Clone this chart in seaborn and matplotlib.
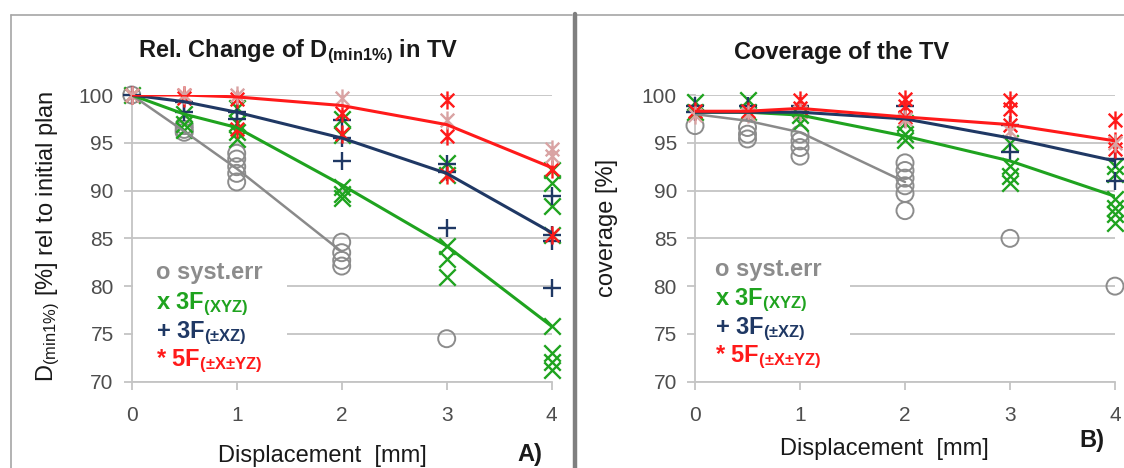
import matplotlib
matplotlib.use("Agg")
import matplotlib.pyplot as plt
import seaborn as sns
from matplotlib.path import Path
from matplotlib.patches import Rectangle
from matplotlib.lines import Line2D
from matplotlib.markers import MarkerStyle

# ---------------- data ----------------
disp = [0, 0.5, 1, 2, 3, 4]
disp_sys = [0, 0.5, 1, 2]

# panel A: rel. change of D(min1%) in TV (mean lines)
a_sys_line = [100, 96.2, 92.3, 83.6]
a_xyz_line = [100, 98.0, 96.6, 90.6, 84.2, 75.8]
a_pmxz_line = [100, 99.3, 98.2, 95.5, 91.8, 85.6]
a_five_line = [100, 100, 99.8, 98.9, 96.9, 92.4]

# panel A: single cases
a_sys_x = [0, 0.5, 0.5, 0.5, 1, 1, 1, 1, 1, 2, 2, 2, 2, 3]
a_sys_y = [100, 96.8, 96.4, 96.1, 93.9, 93.3, 92.5, 91.8, 90.9, 84.6, 83.5, 82.7, 82.1, 74.5]
a_xyz_x = [0, 0.5, 0.5, 0.5, 1, 1, 1, 1, 2, 2, 2, 2, 2, 3, 3, 3, 3, 3, 4, 4, 4, 4, 4, 4, 4, 4]
a_xyz_y = [100, 98.0, 97.0, 96.3, 98.6, 97.1, 96.1, 95.4, 97.5, 95.8, 90.4, 89.6, 89.2,
           92.9, 91.6, 84.2, 82.8, 81.0, 92.2, 90.8, 88.4, 85.3, 75.8, 73.0, 72.1, 71.2]
a_pmxz_x = [0, 0.5, 0.5, 1, 1, 2, 2, 2, 3, 3, 3, 4, 4, 4, 4]
a_pmxz_y = [100, 99.3, 98.2, 98.2, 97.5, 97.4, 95.5, 93.1, 92.8, 91.9, 86.1, 89.4, 85.4, 84.7, 79.8]
a_five_x = [0, 0.5, 0.5, 1, 1, 2, 2, 3, 3, 3, 4, 4]
a_five_y = [100, 100, 99.7, 99.6, 96.4, 98.1, 95.9, 99.5, 95.7, 91.6, 92.3, 85.4]
a_pink_x = [0, 0.5, 1, 2, 3, 4, 4]
a_pink_y = [100, 100, 100, 99.7, 97.4, 94.3, 93.6]

# panel B: coverage of the TV (mean lines)
b_sys_line = [98.0, 97.3, 96.1, 90.9]
b_xyz_line = [98.2, 98.2, 97.9, 95.7, 93.1, 89.4]
b_pmxz_line = [98.2, 98.2, 98.2, 97.5, 95.5, 93.1]
b_five_line = [98.3, 98.3, 98.6, 97.7, 96.9, 95.2]

# panel B: single cases
b_sys_x = [0, 0.5, 0.5, 0.5, 1, 1, 1, 1, 2, 2, 2, 2, 2, 2, 3, 4]
b_sys_y = [96.8, 96.6, 95.9, 95.4, 95.9, 95.2, 94.5, 93.6, 92.9, 92.1, 91.3, 90.5, 89.7, 87.9, 85.0, 80.0]
b_xyz_x = [0, 0, 0.5, 0.5, 1, 1, 2, 2, 2, 3, 3, 3, 3, 4, 4, 4, 4, 4, 4]
b_xyz_y = [99.3, 98.2, 99.5, 98.2, 97.9, 97.1, 97.1, 95.9, 95.3, 95.0, 92.6, 91.5, 90.8,
           92.6, 91.7, 89.1, 88.2, 87.5, 86.6]
b_pmxz_x = [0, 0, 0.5, 0.5, 1, 1, 2, 2, 3, 3, 4, 4]
b_pmxz_y = [98.9, 98.2, 98.8, 98.2, 98.9, 98.2, 98.9, 97.5, 96.9, 94.0, 93.3, 91.0]
b_five_x = [0, 0.5, 1, 1, 2, 2, 2, 3, 3, 3, 4, 4, 4]
b_five_y = [98.3, 98.3, 99.5, 98.6, 99.6, 98.9, 97.7, 99.5, 98.5, 96.9, 97.4, 95.2, 94.3]
b_pink_x = [0, 0.5, 1, 2, 3, 4]
b_pink_y = [97.9, 98.0, 98.2, 97.5, 96.2, 95.0]

legend_labels = ["o syst.err", r"x 3F$_\mathbf{(XYZ)}$", r"+ 3F$_\mathbf{(±XZ)}$", r"* 5F$_\mathbf{(±X±YZ)}$"]
yticks = [70, 75, 80, 85, 90, 95, 100]
xticks = [0, 1, 2, 3, 4]

GRAY = "#8c8c8c"
GREEN = "#1fa31f"
NAVY = "#1f3864"
RED = "#ff1a1a"
PINK = "#d9a3a3"

sns.set_theme(style="white")
plt.rcParams["font.family"] = ["Liberation Sans", "DejaVu Sans"]
plt.rcParams["mathtext.fontset"] = "custom"
plt.rcParams["mathtext.rm"] = "Liberation Sans"
plt.rcParams["mathtext.bf"] = "Liberation Sans:bold"
plt.rcParams["mathtext.it"] = "Liberation Sans:italic"

W, H = 1124, 468
fig = plt.figure(figsize=(W / 100, H / 100), dpi=100)
fig.patch.set_facecolor("white")

def fx(px):
    return px / W

def fy(py):
    return 1 - py / H

# Excel style "star" marker: x with a vertical bar
star = Path([(0, -1), (0, 1), (-0.75, -0.75), (0.75, 0.75), (-0.75, 0.75), (0.75, -0.75)],
            [Path.MOVETO, Path.LINETO, Path.MOVETO, Path.LINETO, Path.MOVETO, Path.LINETO])
open_circle = MarkerStyle("o", fillstyle="none")


def draw_panel(ax, pts, lines, leg_x, leg_y):
    ax.set_xlim(0, 4)
    ax.set_ylim(70, 100)
    ax.set_xticks(xticks)
    ax.set_yticks(yticks)
    ax.yaxis.grid(True, color="#c4c4c4", lw=1.3)
    ax.set_axisbelow(True)
    for s in ["top", "right"]:
        ax.spines[s].set_visible(False)
    ax.spines["left"].set_color("#c4c4c4")
    ax.spines["bottom"].set_color("#c4c4c4")
    ax.spines["left"].set_linewidth(1.3)
    ax.spines["bottom"].set_linewidth(1.3)
    ax.tick_params(axis="y", direction="out", length=6, width=1.3, color="#c4c4c4",
                   pad=7, labelsize=15, labelcolor="#4d4d4d", left=True)
    ax.tick_params(axis="x", direction="out", length=5.5, width=1.3, color="#c4c4c4",
                   pad=12, labelsize=15, labelcolor="#4d4d4d", bottom=True)

    # white legend area hiding grid lines
    ax.add_patch(Rectangle((0.01, 71.5), 1.47, 11.8, facecolor="white", edgecolor="none", zorder=1))

    (sx, sy), (xx, xy), (px_, py_), (fx_, fy_), (kx, ky) = pts
    sns.scatterplot(x=sx, y=sy, marker=open_circle, color=GRAY, s=150, linewidth=1.4,
                    ax=ax, clip_on=False, zorder=3)
    sns.scatterplot(x=xx, y=xy, marker="x", color=GREEN, s=140, linewidth=1.7,
                    ax=ax, clip_on=False, zorder=3)
    sns.scatterplot(x=px_, y=py_, marker="+", color=NAVY, s=160, linewidth=1.7,
                    ax=ax, clip_on=False, zorder=3)
    sns.scatterplot(x=fx_, y=fy_, marker=star, color=RED, edgecolor=RED, s=170, linewidth=1.7,
                    ax=ax, clip_on=False, zorder=3)
    sns.scatterplot(x=kx, y=ky, marker=star, color=PINK, edgecolor=PINK, s=170, linewidth=1.7,
                    ax=ax, clip_on=False, zorder=3)

    sys_line, xyz_line, pmxz_line, five_line = lines
    sns.lineplot(x=disp_sys, y=sys_line, color="#8a8a8a", lw=1.8, ax=ax, zorder=4)
    sns.lineplot(x=disp, y=xyz_line, color=GREEN, lw=2.2, ax=ax, zorder=4)
    sns.lineplot(x=disp, y=pmxz_line, color=NAVY, lw=2.2, ax=ax, zorder=4)
    sns.lineplot(x=disp, y=five_line, color=RED, lw=2.2, ax=ax, zorder=4)

    for lab, c, y in zip(legend_labels, [GRAY, GREEN, NAVY, RED], leg_y):
        ax.text(leg_x, y, lab, color=c, fontsize=17, fontweight="bold", va="baseline",
                ha="left", zorder=5)


axA = fig.add_axes([fx(131.7), fy(381.7), 420 / W, 286.7 / H])
axB = fig.add_axes([fx(695), fy(381.7), 420 / W, 286.7 / H])

draw_panel(axA,
           [(a_sys_x, a_sys_y), (a_xyz_x, a_xyz_y), (a_pmxz_x, a_pmxz_y),
            (a_five_x, a_five_y), (a_pink_x, a_pink_y)],
           [a_sys_line, a_xyz_line, a_pmxz_line, a_five_line],
           0.23, [80.7, 77.6, 74.6, 71.6])
draw_panel(axB,
           [(b_sys_x, b_sys_y), (b_xyz_x, b_xyz_y), (b_pmxz_x, b_pmxz_y),
            (b_five_x, b_five_y), (b_pink_x, b_pink_y)],
           [b_sys_line, b_xyz_line, b_pmxz_line, b_five_line],
           0.19, [81.1, 78.0, 75.0, 72.0])

# titles, axis labels and panel letters
fig.text(fx(298), fy(52), r"Rel. Change of D$_\mathbf{(min1\%)}$ in TV", fontsize=17,
         fontweight="bold", ha="center", va="center", color="#1a1a1a")
fig.text(fx(842), fy(52), "Coverage of the TV", fontsize=17, fontweight="bold",
         ha="center", va="center", color="#1a1a1a")
fig.text(fx(48), fy(236), r"D$_\mathrm{(min1\%)}$ [%] rel to initial plan", fontsize=17,
         rotation=90, ha="center", va="center", color="#1a1a1a")
fig.text(fx(607), fy(228), "coverage [%]", fontsize=17, rotation=90,
         ha="center", va="center", color="#1a1a1a")
fig.text(fx(322), fy(456), "Displacement  [mm]", fontsize=17, ha="center", va="center",
         color="#1a1a1a")
fig.text(fx(884), fy(449), "Displacement  [mm]", fontsize=17, ha="center", va="center",
         color="#1a1a1a")
fig.text(fx(530), fy(455), "A)", fontsize=17, fontweight="bold", ha="center", va="center",
         color="#1a1a1a")
fig.text(fx(1092), fy(440), "B)", fontsize=17, fontweight="bold", ha="center", va="center",
         color="#1a1a1a")

# chart frames
frame = "#a6a6a6"
fig.add_artist(Line2D([fx(11), fx(11)], [fy(15), 0], color=frame, lw=1.2))
fig.add_artist(Line2D([fx(11), fx(572)], [fy(15), fy(15)], color=frame, lw=1.2))
fig.add_artist(Line2D([fx(577), 1], [fy(15), fy(15)], color=frame, lw=1.2))
fig.add_artist(Line2D([fx(574.5), fx(574.5)], [fy(14), 0], color="#7f7f7f", lw=3.2))

fig.savefig("out.png", dpi=100, facecolor="white")
